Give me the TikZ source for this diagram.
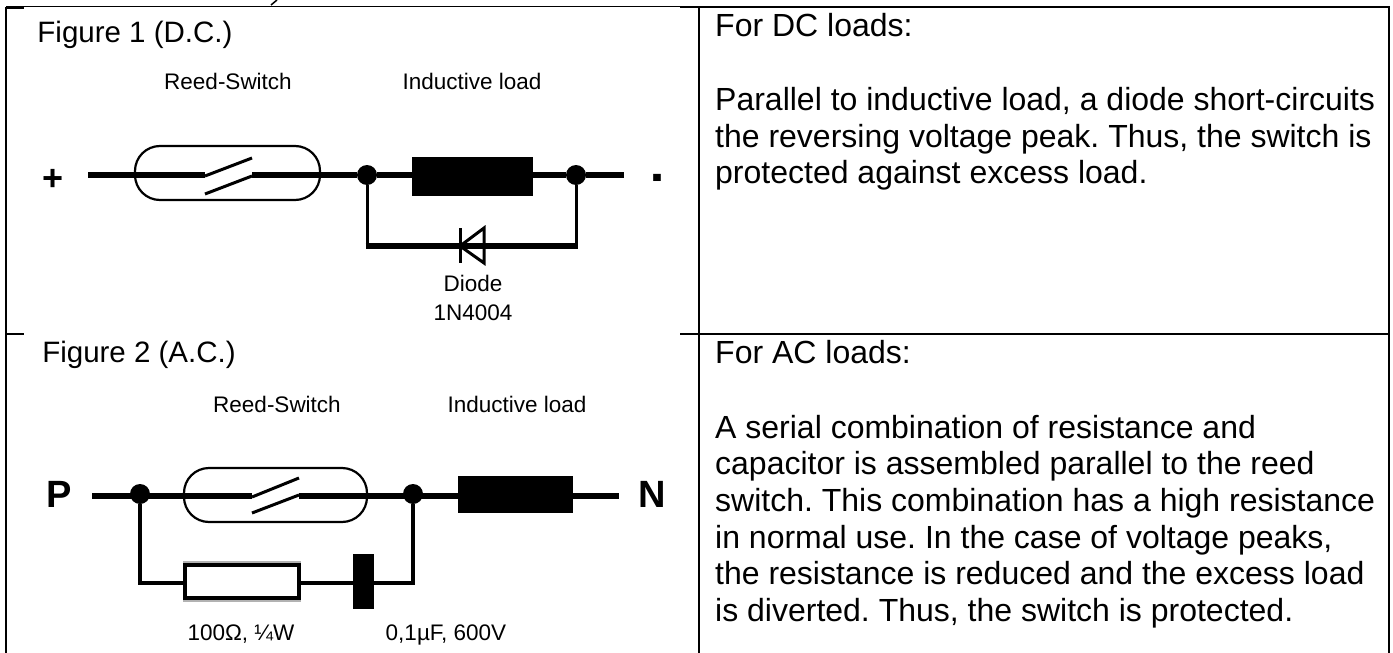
\documentclass[tikz,border=0pt]{standalone}
\usepackage{fontspec}
\setmainfont{Liberation Sans}
\frenchspacing
\tikzset{
    x=1pt,y=-1pt,
    grid/.style={line width=2.2pt},
    wire/.style={line width=6pt},
    thinwire/.style={line width=3pt},
    dot/.style={circle,fill,inner sep=0pt,minimum size=20pt},
    load/.style={fill,inner sep=0pt},
    capsule/.style={draw,line width=2.2pt,rounded corners=25pt,inner sep=0pt},
    contact/.style={line width=3pt},
    body/.style={anchor=base west,inner sep=0pt,font=\fontsize{32}{36}\selectfont},
    fig/.style={inner sep=0pt,font=\fontsize{29.5}{32}\selectfont},
    lab/.style={inner sep=0pt,font=\fontsize{22.5}{26}\selectfont},
    pole/.style={inner sep=0pt,font=\fontsize{38}{40}\selectfont\bfseries}
}
\begin{document}
\begin{tikzpicture}
    \useasboundingbox (0,0) rectangle (1393,653);
    \draw[grid] (6,7) -- (6,653);
    \draw[grid] (699,7) -- (699,653);
    \draw[grid] (1389,7) -- (1389,653);
    \draw[line width=1.5pt] (6,6.5) -- (680,6.5);
    \draw[grid] (680,7) -- (1390,7);
    \draw[grid] (5,8) -- (24,8);
    \draw[grid] (5,334) -- (24,334);
    \draw[grid] (680,334) -- (1390,334);
    \draw[line width=1.5pt] (277,0) -- (271,5);

    \node[fig] (title1) at (135,35) {Figure 1 (D.C.)};
    \node[lab] (reed1) at (228,81) {Reed-Switch};
    \node[lab] (ind1) at (472,81) {Inductive load};
    \node[pole,font=\fontsize{36}{36}\selectfont\bfseries] (plus) at (53,180) {+};
    \node[pole,font=\fontsize{30}{30}\selectfont\bfseries] (minus) at (657,184) {\scalebox{1}[2]{-}};
    \coordinate (a1) at (88,175);
    \coordinate (b1) at (624,175);
    \node[capsule,minimum width=185pt,minimum height=54pt] (sw1) at (227.5,173) {};
    \node[load,minimum width=121pt,minimum height=39pt] (coil1) at (472.5,176.5) {};
    \node[dot] (j1) at (367,175) {};
    \node[dot] (j2) at (576,175) {};
    \coordinate (l1) at (205,175);
    \coordinate (r1) at (252,175);
    \draw[wire] (a1) -- (l1);
    \draw[wire] (r1) -- (j1) -- (j2) -- (b1);
    \draw[contact] (205,176) -- (252,158);
    \draw[contact] (205,194) -- (252,176);
    \coordinate (c1) at (367,246);
    \coordinate (c2) at (576,246);
    \draw[thinwire] (j1) -- (c1);
    \draw[thinwire] (j2) -- (c2);
    \draw[wire] ([xshift=-1.5pt]c1) -- ([xshift=1.5pt]c2);
    \draw[contact] (460,228) -- (460,263);
    \draw[contact] (460,246) -- (484,228) -- (484,263) -- cycle;
    \node[lab] (diode) at (473,283) {Diode};
    \node[lab] (type) at (473,313) {1N4004};

    \node[fig] (title2) at (139,355) {Figure 2 (A.C.)};
    \node[lab] (reed2) at (277,404) {Reed-Switch};
    \node[lab] (ind2) at (517,404) {Inductive load};
    \node[pole] (p) at (59,494) {P};
    \node[pole] (n) at (652,494) {N};
    \coordinate (a2) at (92,496);
    \coordinate (b2) at (619,496);
    \node[capsule,minimum width=183pt,minimum height=54pt] (sw2) at (275.5,495) {};
    \node[load,minimum width=115pt,minimum height=37pt] (coil2) at (515.5,494.5) {};
    \node[dot] (j3) at (140,494) {};
    \node[dot] (j4) at (413,494) {};
    \coordinate (l2) at (252,496);
    \coordinate (r2) at (299,496);
    \draw[wire] (a2) -- (l2);
    \draw[wire] (r2) -- (b2);
    \draw[contact] (252,497) -- (299,478);
    \draw[contact] (252,513) -- (299,495);
    \coordinate (c3) at (140,583);
    \coordinate (c4) at (413,583);
    \draw[line width=4pt] (j3) -- (c3) -- (c4) -- (j4);
    \fill[black!30] (183,561) rectangle (301,602);
    \node[draw,fill=white,line width=3.5pt,inner sep=0pt,minimum width=114pt,minimum height=33pt] (res) at (242,581.5) {};
    \node[load,minimum width=21pt,minimum height=55pt] (cap) at (363.5,581.5) {};
    \node[lab,anchor=base] (val1) at (241,640) {100Ω, ¼W};
    \node[lab,anchor=base] (val2) at (446,640) {0,1µF, 600V};

    \foreach \y/\t in {36/{For DC loads:},110/{Parallel to inductive load, a diode short-circuits},147/{the reversing voltage peak. Thus, the switch is},183/{protected against excess load.},363/{For AC loads:},438/{A serial combination of resistance and},474/{capacitor is assembled parallel to the reed},511/{switch. This combination has a high resistance},548/{in normal use. In the case of voltage peaks,},584/{the resistance is reduced and the excess load},621/{is diverted. Thus, the switch is protected.}}
    {
        \node[body] (line\y) at (715,\y) {\t};
    }
\end{tikzpicture}
\end{document}
